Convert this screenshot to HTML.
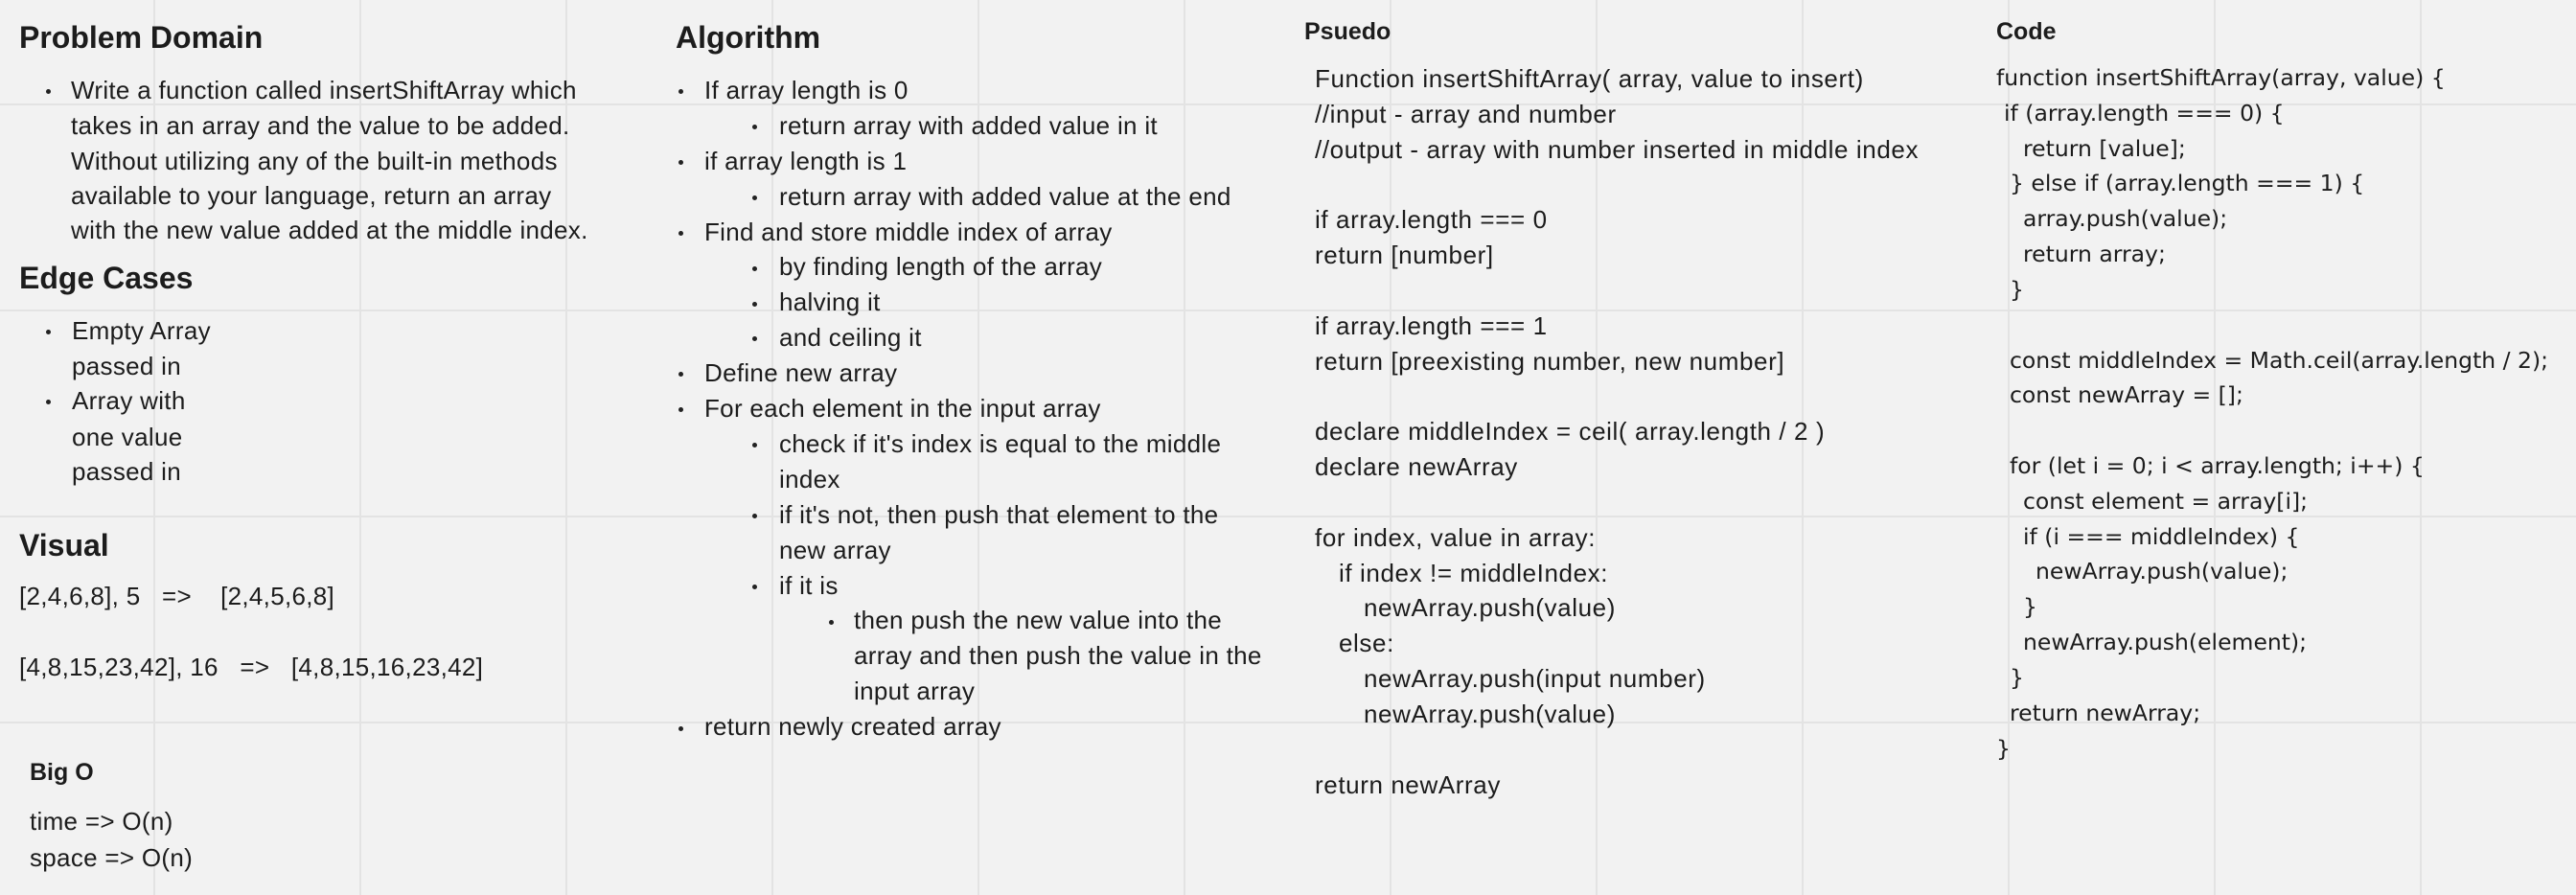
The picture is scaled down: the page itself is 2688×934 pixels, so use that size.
<!DOCTYPE html>
<html><head><meta charset="utf-8"><style>
html,body{margin:0;padding:0}
body{width:2688px;height:934px;overflow:hidden;position:relative;background:#f2f2f2;font-family:"Liberation Sans",sans-serif;color:#1c1c1c;
background-image:linear-gradient(to right,#e3e3e3 2px,transparent 2px),linear-gradient(to bottom,#e3e3e3 2px,transparent 2px);
background-size:215px 215px;background-position:160px 108px;}
.t{position:absolute;white-space:pre;font-size:26px;letter-spacing:0.3px;line-height:36px;height:36px;margin-top:0px}
.p{letter-spacing:0.6px}
.h{position:absolute;white-space:pre;font-weight:bold;font-size:32px;line-height:40px}
.h2{position:absolute;white-space:pre;font-weight:bold;font-size:25px;line-height:34px}
.c{position:absolute;white-space:pre;font-family:"DejaVu Sans",sans-serif;font-size:23.5px;line-height:36px;margin-top:0px}
.d{position:absolute;width:5px;height:5px;border-radius:50%;background:#222}
</style></head><body>
<div class="h" style="left:20px;top:19px">Problem Domain</div>
<div class="d" style="left:48px;top:93px"></div>
<div class="t" style="left:74px;top:76px">Write a function called insertShiftArray which</div>
<div class="t" style="left:74px;top:113px">takes in an array and the value to be added.</div>
<div class="t" style="left:74px;top:150px">Without utilizing any of the built-in methods</div>
<div class="t" style="left:74px;top:186px">available to your language, return an array</div>
<div class="t" style="left:74px;top:222px">with the new value added at the middle index.</div>
<div class="h" style="left:20px;top:270px">Edge Cases</div>
<div class="d" style="left:48px;top:344px"></div>
<div class="t" style="left:75px;top:327px">Empty Array</div>
<div class="t" style="left:75px;top:364px">passed in</div>
<div class="d" style="left:48px;top:417px"></div>
<div class="t" style="left:75px;top:400px">Array with</div>
<div class="t" style="left:75px;top:438px">one value</div>
<div class="t" style="left:75px;top:474px">passed in</div>
<div class="h" style="left:20px;top:549px">Visual</div>
<div class="t" style="left:20px;top:604px">[2,4,6,8], 5   =>    [2,4,5,6,8]</div>
<div class="t" style="left:20px;top:678px">[4,8,15,23,42], 16   =>   [4,8,15,16,23,42]</div>
<div class="h2" style="left:31px;top:789px">Big O</div>
<div class="t" style="left:31px;top:839px">time => O(n)</div>
<div class="t" style="left:31px;top:877px">space => O(n)</div>

<div class="h" style="left:705px;top:19px">Algorithm</div>
<div class="d" style="left:708px;top:93px"></div><div class="t" style="left:735px;top:76px">If array length is 0</div>
<div class="d" style="left:785px;top:130px"></div><div class="t" style="left:813px;top:113px">return array with added value in it</div>
<div class="d" style="left:708px;top:167px"></div><div class="t" style="left:735px;top:150px">if array length is 1</div>
<div class="d" style="left:785px;top:204px"></div><div class="t" style="left:813px;top:187px">return array with added value at the end</div>
<div class="d" style="left:708px;top:241px"></div><div class="t" style="left:735px;top:224px">Find and store middle index of array</div>
<div class="d" style="left:785px;top:278px"></div><div class="t" style="left:813px;top:260px">by finding length of the array</div>
<div class="d" style="left:785px;top:315px"></div><div class="t" style="left:813px;top:297px">halving it</div>
<div class="d" style="left:785px;top:351px"></div><div class="t" style="left:813px;top:334px">and ceiling it</div>
<div class="d" style="left:708px;top:388px"></div><div class="t" style="left:735px;top:371px">Define new array</div>
<div class="d" style="left:708px;top:425px"></div><div class="t" style="left:735px;top:408px">For each element in the input array</div>
<div class="d" style="left:785px;top:462px"></div><div class="t" style="left:813px;top:445px">check if it's index is equal to the middle</div>
<div class="t" style="left:813px;top:482px">index</div>
<div class="d" style="left:785px;top:536px"></div><div class="t" style="left:813px;top:519px">if it's not, then push that element to the</div>
<div class="t" style="left:813px;top:556px">new array</div>
<div class="d" style="left:785px;top:610px"></div><div class="t" style="left:813px;top:593px">if it is</div>
<div class="d" style="left:865px;top:647px"></div><div class="t" style="left:891px;top:629px">then push the new value into the</div>
<div class="t" style="left:891px;top:666px">array and then push the value in the</div>
<div class="t" style="left:891px;top:703px">input array</div>
<div class="d" style="left:708px;top:758px"></div><div class="t" style="left:735px;top:740px">return newly created array</div>

<div class="h2" style="left:1361px;top:16px">Psuedo</div>
<div class="t p" style="left:1372px;top:64px">Function insertShiftArray( array, value to insert)</div>
<div class="t p" style="left:1372px;top:101px">//input - array and number</div>
<div class="t p" style="left:1372px;top:138px">//output - array with number inserted in middle index</div>
<div class="t p" style="left:1372px;top:211px">if array.length === 0</div>
<div class="t p" style="left:1372px;top:248px">return [number]</div>
<div class="t p" style="left:1372px;top:322px">if array.length === 1</div>
<div class="t p" style="left:1372px;top:359px">return [preexisting number, new number]</div>
<div class="t p" style="left:1372px;top:432px">declare middleIndex = ceil( array.length / 2 )</div>
<div class="t p" style="left:1372px;top:469px">declare newArray</div>
<div class="t p" style="left:1372px;top:543px">for index, value in array:</div>
<div class="t p" style="left:1397px;top:580px">if index != middleIndex:</div>
<div class="t p" style="left:1423px;top:616px">newArray.push(value)</div>
<div class="t p" style="left:1397px;top:653px">else:</div>
<div class="t p" style="left:1423px;top:690px">newArray.push(input number)</div>
<div class="t p" style="left:1423px;top:727px">newArray.push(value)</div>
<div class="t p" style="left:1372px;top:801px">return newArray</div>

<div class="h2" style="left:2083px;top:16px">Code</div>
<div class="c" style="left:2083px;top:63px">function insertShiftArray(array, value) {</div>
<div class="c" style="left:2091px;top:100px">if (array.length === 0) {</div>
<div class="c" style="left:2111px;top:137px">return [value];</div>
<div class="c" style="left:2097px;top:173px">} else if (array.length === 1) {</div>
<div class="c" style="left:2111px;top:210px">array.push(value);</div>
<div class="c" style="left:2111px;top:247px">return array;</div>
<div class="c" style="left:2097px;top:284px">}</div>
<div class="c" style="left:2097px;top:358px">const middleIndex = Math.ceil(array.length / 2);</div>
<div class="c" style="left:2097px;top:394px">const newArray = [];</div>
<div class="c" style="left:2097px;top:468px">for (let i = 0; i &lt; array.length; i++) {</div>
<div class="c" style="left:2111px;top:505px">const element = array[i];</div>
<div class="c" style="left:2111px;top:542px">if (i === middleIndex) {</div>
<div class="c" style="left:2124px;top:578px">newArray.push(value);</div>
<div class="c" style="left:2111px;top:615px">}</div>
<div class="c" style="left:2111px;top:652px">newArray.push(element);</div>
<div class="c" style="left:2097px;top:689px">}</div>
<div class="c" style="left:2097px;top:726px">return newArray;</div>
<div class="c" style="left:2083px;top:763px">}</div>
</body></html>
